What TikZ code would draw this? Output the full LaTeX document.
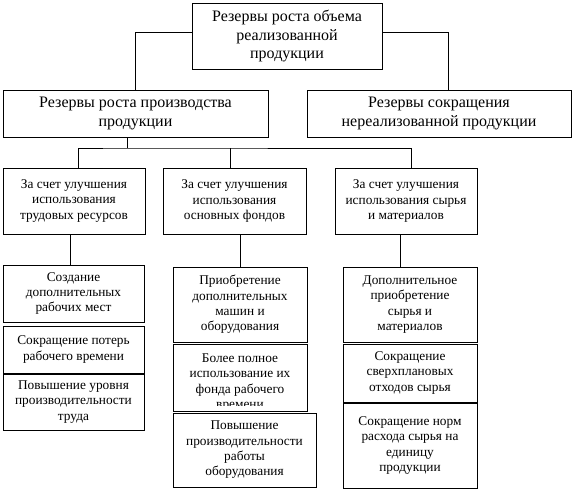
\documentclass[tikz,border=0pt]{standalone}
\usepackage{fontspec}
\setmainfont{Liberation Serif}
\usetikzlibrary{positioning}

\begin{document}
\begin{tikzpicture}[x=0.75pt, y=-0.75pt, line width=0.6pt,
    bigbox/.style={draw, align=center, inner sep=2pt, font=\fontsize{12}{13.9}\selectfont},
    smallbox/.style={draw, align=center, inner sep=2pt, font=\fontsize{10}{11.5}\selectfont},
    plaintext/.style={align=center, inner sep=0pt, font=\fontsize{10}{11.5}\selectfont}]
  \useasboundingbox (0,0) rectangle (574,492);
  % upper levels
  \node[bigbox, minimum width=142.5pt, minimum height=49.5pt] (top) at (287,36)
    {Резервы роста объема\\реализованной\\продукции};
  \node[bigbox, minimum width=198.75pt, minimum height=35.25pt] (prod) at (135.5,113.5)
    {Резервы роста производства\\продукции};
  \node[bigbox, minimum width=198pt, minimum height=35.25pt] (unsold) at (439,113.5)
    {Резервы сокращения\\нереализованной продукции};
  \draw ([yshift=3pt]top.west) -| (prod.north);
  \draw ([yshift=3pt]top.east) -| ([xshift=6.75pt]unsold.north);
  % groups of reserves
  \node[smallbox, minimum width=106.5pt, minimum height=49.5pt] (labour) at (74,201)
    {За счет улучшения\\использования\\трудовых ресурсов};
  \node[smallbox, minimum width=107.25pt, minimum height=49.5pt] (fixed) at (234.5,201)
    {За счет улучшения\\использования\\основных фондов};
  \node[smallbox, minimum width=106.5pt, minimum height=49.5pt] (mater) at (406,201)
    {За счет улучшения\\использования сырья\\и материалов};
  \coordinate (split) at (127,148);
  \draw (split |- prod.south) -- (split);
  \draw ([xshift=3pt]labour.north) |- (split) -| ([xshift=3.75pt]mater.north);
  \draw ([xshift=-3.4pt]fixed.north) -- ([xshift=-3.4pt]fixed.north |- split);
  % labour resources
  \node[smallbox, minimum width=105.75pt, minimum height=42.75pt] (jobs) at (73.5,293.5)
    {Создание\\дополнительных\\рабочих мест};
  \node[smallbox, minimum width=105.75pt, minimum height=35.25pt] (loss) at (73.5,349.5)
    {Сокращение потерь\\рабочего времени};
  \node[smallbox, minimum width=105.75pt, minimum height=42pt] (labprod) at (73.5,402)
    {Повышение уровня\\производительности\\труда};
  \draw ([xshift=-3pt]labour.south) -- ([xshift=-3pt]labour.south |- jobs.north);
  % fixed assets
  \node[smallbox, minimum width=100.5pt, minimum height=56.25pt] (machines) at (240,304.5)
    {Приобретение\\дополнительных\\машин и\\оборудования};
  \node[smallbox, minimum width=100.5pt, minimum height=50.25pt] (fund) at (240,377.5) {};
  \begin{scope}
    \clip (fund.north west) rectangle ([yshift=4.5pt]fund.south east);
    \node[plaintext] (fundtext) at (240,382.5)
      {Более полное\\использование их\\фонда рабочего\\времени};
  \end{scope}
  \node[smallbox, minimum width=107.25pt, minimum height=55.5pt] (equip) at (244.5,450)
    {Повышение\\производительности\\работы\\оборудования};
  \draw (machines.north |- fixed.south) -- (machines.north);
  % raw materials
  \node[smallbox, minimum width=100.5pt, minimum height=56.25pt] (buy) at (410,304.5)
    {Дополнительное\\приобретение\\сырья и\\материалов};
  \node[smallbox, minimum width=100.5pt, minimum height=43.5pt] (waste) at (410,373)
    {Сокращение\\сверхплановых\\отходов сырья};
  \node[smallbox, minimum width=100.5pt, minimum height=63.75pt] (norms) at (410,445.5)
    {Сокращение норм\\расхода сырья на\\единицу\\продукции};
  \draw ([xshift=-4.5pt]mater.south) -- ([xshift=-4.5pt]mater.south |- buy.north);
\end{tikzpicture}
\end{document}
